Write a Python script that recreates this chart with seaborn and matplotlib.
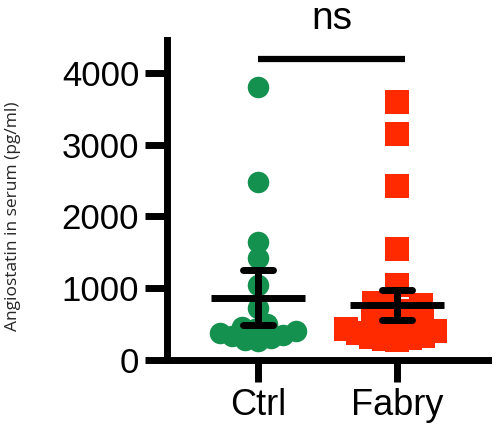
import numpy as np
import pandas as pd
import matplotlib
matplotlib.use("Agg")
import matplotlib.pyplot as plt
import seaborn as sns

# valores (pg/ml)
grupos = ["Ctrl", "Fabry"]
ctrl = [3800, 2480, 1650, 1420, 1050, 720,
        500, 460, 430, 400, 380, 350, 330, 300, 280, 260]
fabry = [3600, 3150, 2420, 1550, 1040,
         800, 760, 720, 680, 640, 600, 560, 520, 490, 460, 430, 400, 370,
         340, 320, 300, 290, 280]

# media e barras de erro
medias = [870, 760]
inferior = [480, 550]
superior = [1250, 970]

cores = ["#14914F", "#FF2A00"]
marcadores = ["o", "s"]
tamanhos = [15.5, 17]

df = pd.DataFrame({
    "grupo": ["Ctrl"] * len(ctrl) + ["Fabry"] * len(fabry),
    "valor": ctrl + fabry,
})

sns.set_style("ticks")
plt.rcParams["font.family"] = ["Liberation Sans", "DejaVu Sans"]
plt.rcParams["text.color"] = "black"
plt.rcParams["xtick.color"] = "black"
plt.rcParams["ytick.color"] = "black"
plt.rcParams["axes.edgecolor"] = "black"

fig = plt.figure(figsize=(5, 4.4), dpi=100)
ax = fig.add_axes([0.334, 0.182, 0.642, 0.727])

# enxame com marcador pequeno; depois aumenta o marcador
grupo_col = []
for g, cor, m, t in zip(grupos, cores, marcadores, tamanhos):
    sub = df[df["grupo"] == g]
    n0 = len(ax.collections)
    sns.swarmplot(data=sub, x="grupo", y="valor", order=grupos, color=cor,
                  marker=m, size=9, linewidth=0, ax=ax)
    grupo_col += [(c, t) for c in ax.collections[n0:]]

ax.set_xlim(-0.655, 1.655)
ax.set_ylim(0, 4460)

fig.canvas.draw()
for col, t in grupo_col:
    if "draw" in col.__dict__:
        del col.draw
    col.set_sizes([t ** 2])
    col.set_alpha(1)

# media e erro
for i in range(2):
    ax.hlines(medias[i], i - 0.34, i + 0.34, color="black", lw=5, zorder=5)
    ax.vlines(i, inferior[i], superior[i], color="black", lw=5, zorder=5)
    ax.hlines([inferior[i], superior[i]], i - 0.105, i + 0.105, color="black",
              lw=5, zorder=5, capstyle="round")

# barra de significancia
ax.plot([0, 1.06], [4190, 4190], color="black", lw=4.5, clip_on=False,
        solid_capstyle="butt")
ax.text(0.53, 4620, "ns", ha="center", va="baseline", fontsize=28,
        clip_on=False)

ax.set_yticks([0, 1000, 2000, 3000, 4000])
ax.tick_params(axis="both", width=5, length=16, labelsize=25, pad=4,
               color="black", labelcolor="black")
ax.tick_params(axis="x", labelsize=26)
for s in ["left", "bottom"]:
    ax.spines[s].set_linewidth(5)
sns.despine(ax=ax)

ax.set_xlabel("")
ax.set_ylabel("Angiostatin in serum (pg/ml)", fontsize=12.5,
              family="Open Sans", va="center")
ax.yaxis.set_label_coords(-0.48, 0.45)

fig.savefig("out.png", dpi=100)
